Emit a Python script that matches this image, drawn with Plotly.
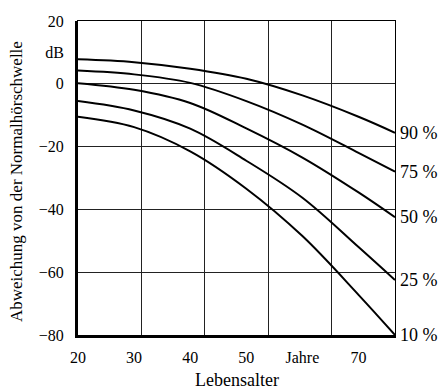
import plotly.graph_objects as go

# ---- data ----
ages = [20, 30, 40, 50, 60, 70, 76.5]
p90 = [7.8, 6.9, 4.8, 1.6, -3.7, -10.5, -15.6]
p75 = [4.2, 3.0, 0.3, -5.5, -13.0, -22.0, -28.0]
p50 = [0.2, -1.9, -6.1, -14.2, -23.5, -34.6, -42.5]
p25 = [-5.5, -8.5, -14.3, -24.5, -36.3, -52.0, -62.5]
p10 = [-10.5, -13.8, -21.5, -33.4, -48.5, -67.2, -80.0]
series = [p90, p75, p50, p25, p10]
series_labels = ["90 %", "75 %", "50 %", "25 %", "10 %"]

x_tickvals = [20, 30, 40, 50, 60, 70]
x_ticktext = ["20", "30", "40", "50", "Jahre", "70"]
y_tickvals = [20, 10, 0, -20, -40, -60, -80]
y_ticktext = ["20", "dB", "0", "\u221220", "\u221240", "\u221260", "\u221280"]

FONT = "Liberation Serif"

fig = go.Figure()
# empty trace so that the grid (base) subplot is created
fig.add_trace(go.Scatter(x=[], y=[], xaxis="x", yaxis="y", showlegend=False, hoverinfo="skip"))
for vals in series:
    fig.add_trace(go.Scatter(x=ages, y=vals, mode="lines", xaxis="x2", yaxis="y2",
                             line=dict(color="black", width=2, shape="spline", smoothing=1.0),
                             showlegend=False, hoverinfo="skip"))

annotations = []
for vals, lab in zip(series, series_labels):
    annotations.append(dict(x=ages[-1], y=vals[-1], xref="x2", yref="y2", text=lab,
                            showarrow=False, xanchor="left", yanchor="middle", xshift=3,
                            font=dict(family=FONT, size=18, color="black")))
annotations.append(dict(x=0.5, y=-0.1815, xref="paper", yref="paper", text="Lebensalter",
                        showarrow=False, xanchor="center", yanchor="bottom",
                        font=dict(family=FONT, size=18, color="black")))
annotations.append(dict(x=-0.196, y=0.49, xref="paper", yref="paper",
                        text="Abweichung von der Normalhörschwelle", textangle=-90,
                        showarrow=False, xanchor="center", yanchor="middle",
                        font=dict(family=FONT, size=17, color="black")))

fig.update_layout(
    width=447, height=392,
    margin=dict(l=78, r=52, t=21, b=57),
    paper_bgcolor="white", plot_bgcolor="white",
    font=dict(family=FONT, size=15, color="black"),
    showlegend=False,
    xaxis=dict(range=[0, 5], dtick=1, showgrid=True, gridcolor="#222", gridwidth=1,
               showticklabels=False, ticks="", zeroline=False,
               showline=True, linecolor="black", linewidth=1, mirror=True),
    yaxis=dict(range=[-80, 20], dtick=20, showgrid=True, gridcolor="#222", gridwidth=1,
               showticklabels=False, ticks="", zeroline=False,
               showline=True, linecolor="black", linewidth=1, mirror=True),
    xaxis2=dict(range=[20, 76.5], overlaying="x", side="bottom", showgrid=False,
                tickvals=x_tickvals, ticktext=x_ticktext, ticks="", zeroline=False,
                showline=True, linecolor="black", linewidth=3, ticklabelstandoff=6,
                tickfont=dict(family=FONT, size=16, color="black")),
    yaxis2=dict(range=[-80, 20], overlaying="y", side="left", showgrid=False,
                tickvals=y_tickvals, ticktext=y_ticktext, ticks="", zeroline=False,
                showline=True, linecolor="black", linewidth=3, ticklabelstandoff=8,
                tickfont=dict(family=FONT, size=16, color="black")),
    annotations=annotations,
)

fig.write_html("out.html", config={"displayModeBar": False},
               post_script="document.body.style.margin='0';")
